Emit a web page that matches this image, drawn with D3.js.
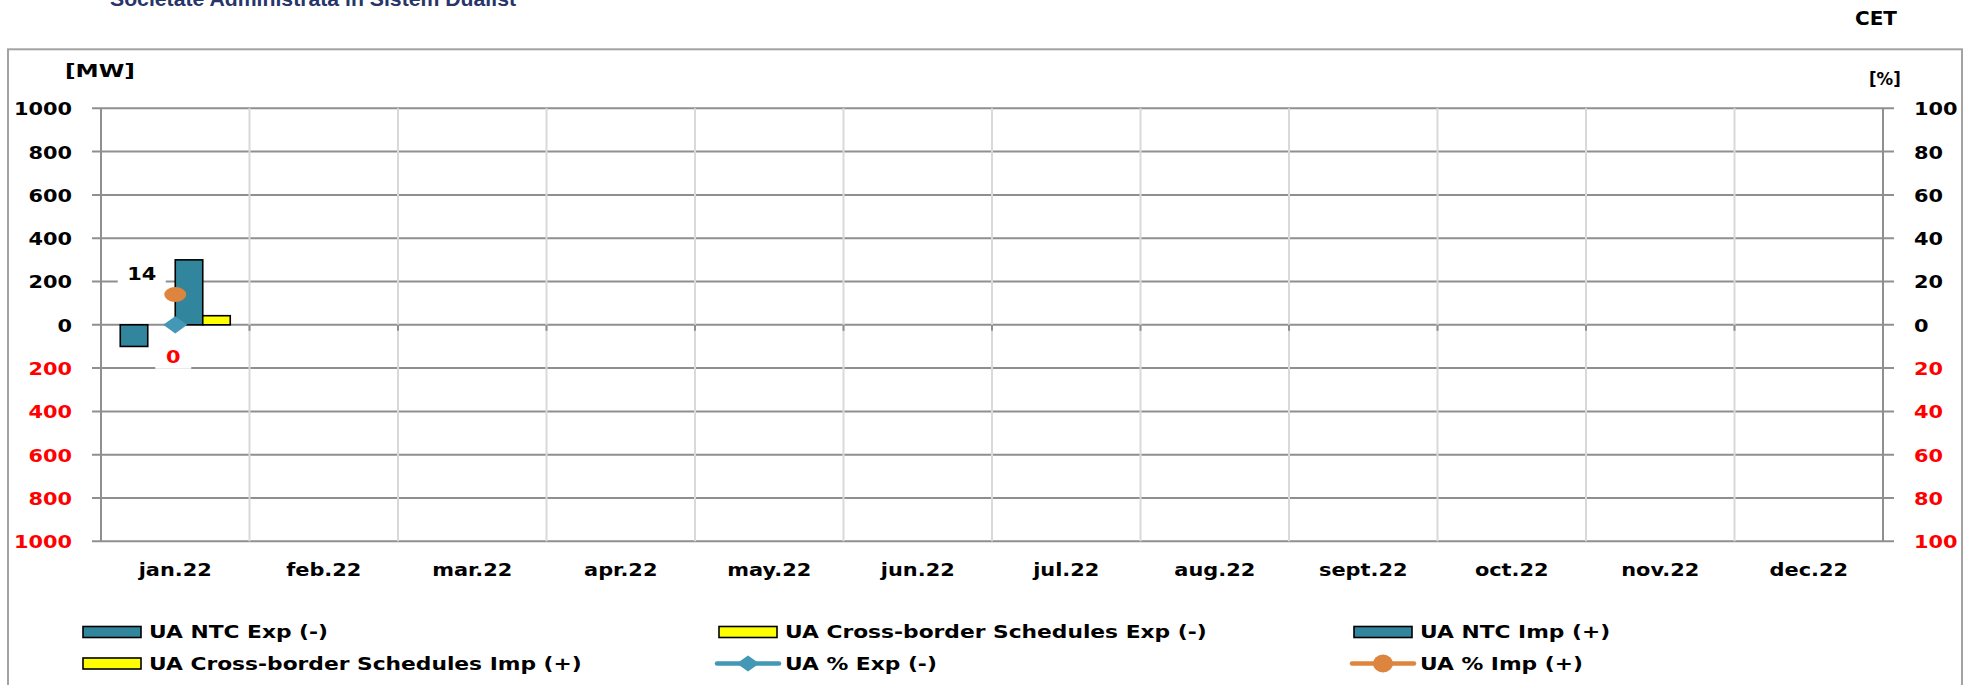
<!DOCTYPE html>
<html>
<head>
<meta charset="utf-8">
<script src="https://cdn.jsdelivr.net/npm/d3@7"></script>
<style>
  html, body { margin: 0; padding: 0; background: #fff; overflow: hidden; }
  svg text { font-family: "DejaVu Sans", Verdana, sans-serif; font-weight: bold; }
</style>
</head>
<body>
<svg id="chart" width="1974" height="685"></svg>
<script>
// ---- data -------------------------------------------------------------
const months = ["jan.22", "feb.22", "mar.22", "apr.22", "may.22", "jun.22",
                "jul.22", "aug.22", "sept.22", "oct.22", "nov.22", "dec.22"];
// MW, export series are drawn below zero
const ntcExp = [100, null, null, null, null, null, null, null, null, null, null, null];
const cbExp  = [0,   null, null, null, null, null, null, null, null, null, null, null];
const ntcImp = [300, null, null, null, null, null, null, null, null, null, null, null];
const cbImp  = [42,  null, null, null, null, null, null, null, null, null, null, null];
// % of NTC used
const pctExp = [0,  null, null, null, null, null, null, null, null, null, null, null];
const pctImp = [14, null, null, null, null, null, null, null, null, null, null, null];
// axis ticks (negative values are shown unsigned, in red)
const mwTicks  = [1000, 800, 600, 400, 200, 0, -200, -400, -600, -800, -1000];
const pctTicks = [100, 80, 60, 40, 20, 0, -20, -40, -60, -80, -100];

// ---- styles -----------------------------------------------------------
const TEAL = "#31859c", YELLOW = "#ffff00";
const EXP_LINE = "#4298b5", IMP_LINE = "#dd843e";
const GRID = "#8f8f8f", VGRID = "#d9d9d9";
const SX = 1.16;              // horizontal text stretch
const W = 1974, H = 685;
const plot = { left: 101, right: 1883, top: 108.3, bottom: 541.3 };

const svg = d3.select("#chart");
svg.append("rect").attr("width", W).attr("height", H).attr("fill", "#fff");

// header
svg.append("text")
  .attr("x", 110).attr("y", 6)
  .attr("font-size", 20)
  .style("font-family", "'Liberation Sans', Arial, sans-serif")
  .attr("fill", "#27356a")
  .attr("textLength", 406).attr("lengthAdjust", "spacingAndGlyphs")
  .text("Societate Administrata in Sistem Dualist");
svg.append("text").attr("x", 1855).attr("y", 25).attr("font-size", 20)
  .attr("fill", "#000").text("CET");

// chart frame
svg.append("rect")
  .attr("x", 8).attr("y", 49.3).attr("width", 1954).attr("height", 700)
  .attr("fill", "none").attr("stroke", "#a3a3a3").attr("stroke-width", 2);

// ---- scales -----------------------------------------------------------
const x = d3.scaleBand().domain(months).range([plot.left, plot.right]);
const y = d3.scaleLinear().domain([-1000, 1000]).range([plot.bottom, plot.top]);
const yPct = d3.scaleLinear().domain([-100, 100]).range([plot.bottom, plot.top]);

const barSeries = [
  { key: "UA NTC Exp (-)", values: ntcExp, sign: -1, fill: TEAL },
  { key: "UA Cross-border Schedules Exp (-)", values: cbExp, sign: -1, fill: YELLOW },
  { key: "UA NTC Imp (+)", values: ntcImp, sign: 1, fill: TEAL },
  { key: "UA Cross-border Schedules Imp (+)", values: cbImp, sign: 1, fill: YELLOW }
];
const xs = d3.scaleBand().domain(barSeries.map(s => s.key))
  .range([0, x.bandwidth()]).paddingInner(0).paddingOuter(0.7);

// ---- grid -------------------------------------------------------------
const grid = svg.append("g");
grid.selectAll("line.h").data(mwTicks).join("line")
  .attr("x1", plot.left - 9).attr("x2", plot.right + 11)
  .attr("y1", d => y(d)).attr("y2", d => y(d))
  .attr("stroke", GRID).attr("stroke-width", 2);
grid.selectAll("line.v").data(months.slice(1)).join("line")
  .attr("x1", d => x(d)).attr("x2", d => x(d))
  .attr("y1", plot.top).attr("y2", plot.bottom)
  .attr("stroke", VGRID).attr("stroke-width", 2);
[plot.left, plot.right].forEach(px => {
  grid.append("line").attr("x1", px).attr("x2", px)
    .attr("y1", plot.top).attr("y2", plot.bottom)
    .attr("stroke", GRID).attr("stroke-width", 2);
});
// category ticks on the zero line
grid.selectAll("line.t").data(months.concat(["end"])).join("line")
  .attr("x1", (d, i) => plot.left + i * x.step()).attr("x2", (d, i) => plot.left + i * x.step())
  .attr("y1", y(0)).attr("y2", y(0) + 6)
  .attr("stroke", GRID).attr("stroke-width", 2);

// ---- axes -------------------------------------------------------------
function styleAxis(g, shift, anchor) {
  g.attr("font-family", null).attr("font-size", 18);
  g.select(".domain").remove();
  g.selectAll(".tick line").remove();
  g.selectAll(".tick text")
    .attr("x", 0).attr("dy", "0.36em")
    .attr("text-anchor", anchor)
    .attr("transform", `translate(${shift},0) scale(${SX},1)`)
    .attr("fill", d => d < 0 ? "#ff0000" : "#000");
}
svg.append("g").attr("transform", `translate(${plot.left},0)`)
  .call(d3.axisLeft(y).tickValues(mwTicks).tickSize(0).tickFormat(d => Math.abs(d)))
  .call(g => styleAxis(g, -29, "end"));
svg.append("g").attr("transform", `translate(${plot.right},0)`)
  .call(d3.axisRight(yPct).tickValues(pctTicks).tickSize(0).tickFormat(d => Math.abs(d)))
  .call(g => styleAxis(g, 31, "start"));
svg.append("g").attr("transform", `translate(0,${plot.bottom})`)
  .call(d3.axisBottom(x).tickSize(0))
  .call(g => {
    g.attr("font-family", null).attr("font-size", 18);
    g.select(".domain").remove();
    g.selectAll(".tick text").attr("y", 0).attr("dy", null)
      .attr("fill", "#000")
      .attr("transform", `translate(0,35) scale(${SX},1)`);
  });

// unit labels
svg.append("text").attr("transform", `translate(65,77) scale(1.29,1)`)
  .attr("font-size", 18).text("[MW]");
svg.append("text").attr("transform", `translate(1869,85) scale(0.92,1)`)
  .attr("font-size", 18).text("[%]");

// ---- bars -------------------------------------------------------------
const bars = [];
barSeries.forEach(s => s.values.forEach((v, i) => {
  if (v) bars.push({ month: months[i], key: s.key, v: s.sign * v, fill: s.fill });
}));
svg.append("g").selectAll("rect").data(bars).join("rect")
  .attr("x", d => x(d.month) + xs(d.key))
  .attr("width", xs.bandwidth())
  .attr("y", d => y(Math.max(0, d.v)))
  .attr("height", d => Math.abs(y(d.v) - y(0)))
  .attr("fill", d => d.fill).attr("stroke", "#000").attr("stroke-width", 1.6);

// ---- % lines ----------------------------------------------------------
const cx = m => x(m) + x.bandwidth() / 2;
const expPts = pctExp.map((v, i) => ({ m: months[i], v: v == null ? null : -v })).filter(d => d.v != null);
const impPts = pctImp.map((v, i) => ({ m: months[i], v })).filter(d => d.v != null);
const line = d3.line().x(d => cx(d.m)).y(d => yPct(d.v));
svg.append("path").datum(expPts).attr("d", line).attr("fill", "none")
  .attr("stroke", EXP_LINE).attr("stroke-width", 4);
svg.append("path").datum(impPts).attr("d", line).attr("fill", "none")
  .attr("stroke", IMP_LINE).attr("stroke-width", 4);

// flat diamond marker: a rotated square stretched sideways
const square = d3.symbol(d3.symbolSquare, 150);
svg.append("g").selectAll("path").data(expPts).join("path")
  .attr("d", square)
  .attr("transform", d => `translate(${cx(d.m)},${yPct(d.v)}) scale(1.39,1) rotate(45)`)
  .attr("fill", EXP_LINE);
svg.append("g").selectAll("ellipse").data(impPts).join("ellipse")
  .attr("cx", d => cx(d.m)).attr("cy", d => yPct(d.v))
  .attr("rx", 11).attr("ry", 7.5).attr("fill", IMP_LINE);

// value labels with white boxes
function valueLabels(pts, dx, dy, boxW, color) {
  const g = svg.append("g").selectAll("g").data(pts).join("g")
    .attr("transform", d => `translate(${cx(d.m) + dx},${yPct(d.v) + dy})`);
  g.append("rect").attr("x", -boxW / 2).attr("y", -12).attr("width", boxW).attr("height", 24)
    .attr("fill", "#fff");
  g.append("text").attr("text-anchor", "middle").attr("dy", "0.36em")
    .attr("font-size", 18).attr("fill", color)
    .attr("transform", `scale(${SX},1)`)
    .text(d => Math.abs(d.v));
}
valueLabels(impPts, -33.5, -21, 48, "#000");
valueLabels(expPts, -2, 32, 36, "#ff0000");

// ---- legend -----------------------------------------------------------
const legendItems = [
  { label: "UA NTC Exp (-)", type: "bar", fill: TEAL },
  { label: "UA Cross-border Schedules Exp (-)", type: "bar", fill: YELLOW },
  { label: "UA NTC Imp (+)", type: "bar", fill: TEAL },
  { label: "UA Cross-border Schedules Imp (+)", type: "bar", fill: YELLOW },
  { label: "UA % Exp (-)", type: "diamond", fill: EXP_LINE },
  { label: "UA % Imp (+)", type: "circle", fill: IMP_LINE }
];
const colX = [83, 719, 1354];
const rowY = [632, 663.5];
const lg = svg.append("g").selectAll("g").data(legendItems).join("g")
  .attr("transform", (d, i) => `translate(${colX[i % 3]},${rowY[Math.floor(i / 3)]})`);
lg.filter(d => d.type === "bar").append("rect")
  .attr("x", 0).attr("y", -5.5).attr("width", 58).attr("height", 11)
  .attr("fill", d => d.fill).attr("stroke", "#000").attr("stroke-width", 1.6);
lg.filter(d => d.type !== "bar").append("line")
  .attr("x1", -2).attr("x2", 60).attr("y1", 0).attr("y2", 0)
  .attr("stroke", d => d.fill).attr("stroke-width", 4.5).attr("stroke-linecap", "round");
lg.filter(d => d.type === "diamond").append("path")
  .attr("d", d3.symbol(d3.symbolSquare, 130))
  .attr("transform", "translate(29,0) scale(1.4,1) rotate(45)")
  .attr("fill", d => d.fill);
lg.filter(d => d.type === "circle").append("ellipse")
  .attr("cx", 29).attr("cy", 0).attr("rx", 10).attr("ry", 9)
  .attr("fill", d => d.fill);
lg.append("text")
  .attr("transform", "translate(66,0) scale(1.21,1)")
  .attr("dy", "0.36em").attr("font-size", 18).attr("fill", "#000")
  .text(d => d.label);
</script>
</body>
</html>
